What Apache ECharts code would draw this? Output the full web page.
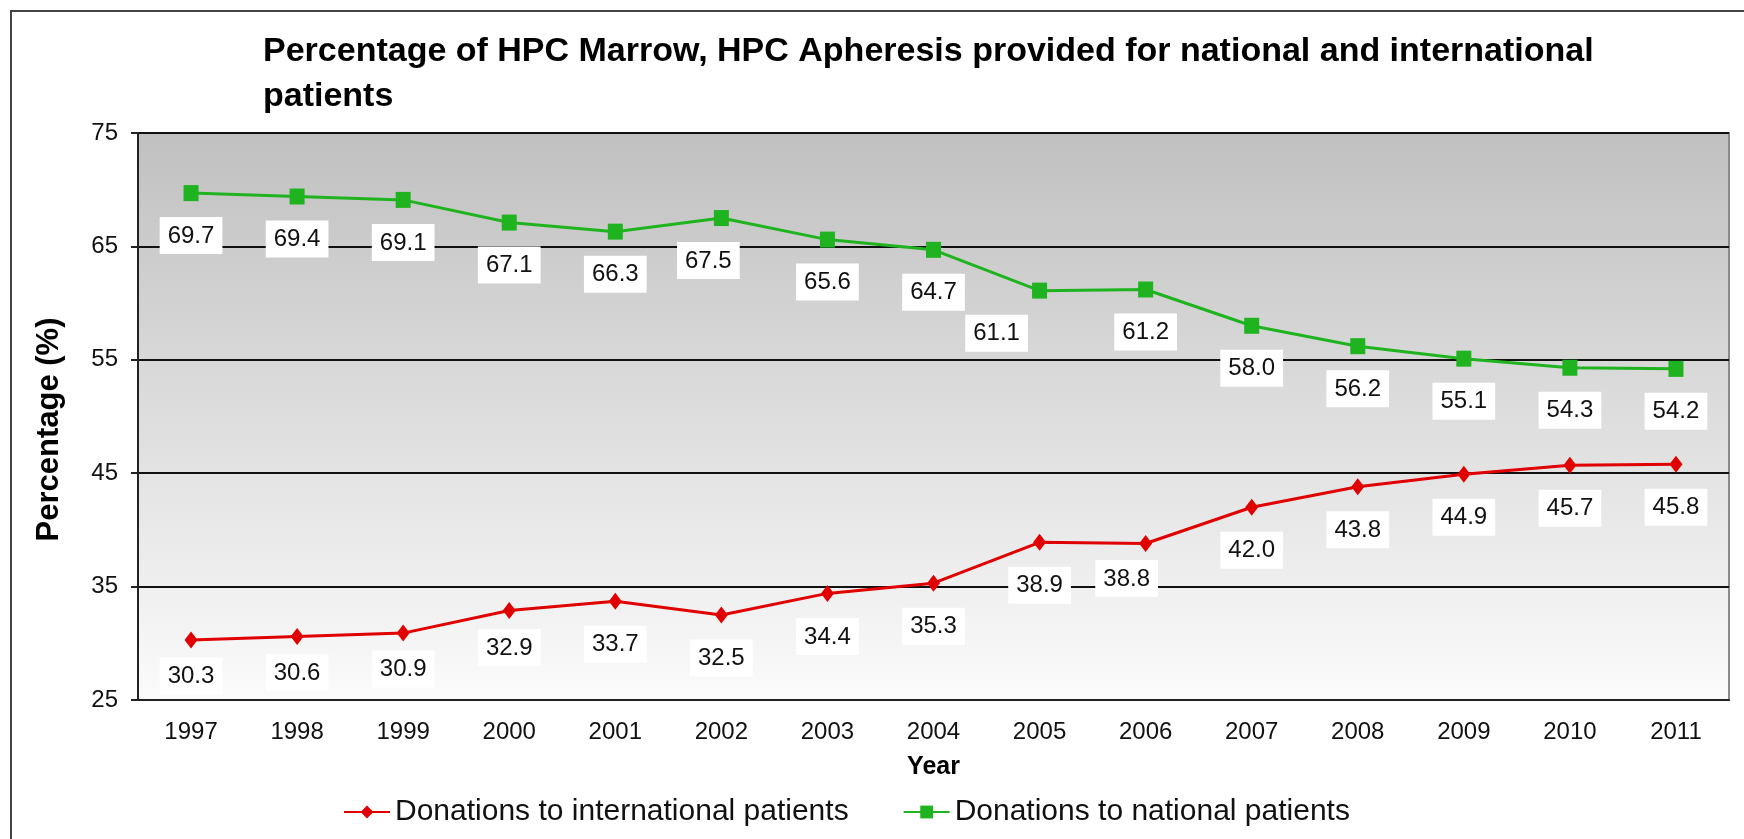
<!DOCTYPE html>
<html>
<head>
<meta charset="utf-8">
<script src="https://cdn.jsdelivr.net/npm/echarts@6/dist/echarts.min.js"></script>
<style>
  html, body { margin: 0; padding: 0; background: #fff; }
  #chart { width: 1744px; height: 839px; }
</style>
</head>
<body>
<div id="chart"></div>
<script>
const years = ['1997', '1998', '1999', '2000', '2001', '2002', '2003', '2004',
  '2005', '2006', '2007', '2008', '2009', '2010', '2011']
const international = [30.3, 30.6, 30.9, 32.9, 33.7, 32.5, 34.4, 35.3, 38.9, 38.8, 42.0, 43.8, 44.9, 45.7, 45.8]
const national = [69.7, 69.4, 69.1, 67.1, 66.3, 67.5, 65.6, 64.7, 61.1, 61.2, 58.0, 56.2, 55.1, 54.3, 54.2]

const font = 'Arial, "Liberation Sans", sans-serif'

// a few labels sit off-centre in the original
const shiftRed = {0: [0, -7], 1: [0, -7], 2: [0, -7], 3: [0, -6], 9: [-19, -8]}
const shiftGreen = {5: [-13, 0], 8: [-43, 0]}

function withLabels(values, shift) {
  return values.map((v, i) => {
    if (!shift[i]) return v
    return {value: v, label: {offset: shift[i]}}
  })
}

const labelStyle = {
  show: true,
  position: 'bottom',
  distance: 16,
  formatter: p => Number(p.value).toFixed(1),
  fontFamily: font,
  fontSize: 24,
  lineHeight: 26,
  color: '#111',
  backgroundColor: '#fff',
  padding: [6, 8, 5, 8]
}

const chart = echarts.init(document.getElementById('chart'))

chart.setOption({
  animation: false,
  backgroundColor: '#fff',
  title: {
    text: 'Percentage of HPC Marrow, HPC Apheresis provided for national and international\npatients',
    left: 258,
    top: 24,
    textStyle: {
      fontFamily: font,
      fontSize: 34,
      fontWeight: 'bold',
      lineHeight: 45,
      color: '#000'
    }
  },
  graphic: [{
    type: 'rect',
    z: -10,
    shape: {x: 11, y: 11, width: 1800, height: 900},
    style: {fill: 'none', stroke: '#444', lineWidth: 2}
  }],
  legend: {
    left: 338,
    top: 792,
    itemWidth: 46,
    itemHeight: 16,
    itemGap: 54,
    textStyle: {fontFamily: font, fontSize: 30, color: '#111'},
    data: ['Donations to international patients', 'Donations to national patients']
  },
  grid: {
    left: 138,
    right: 15,
    top: 133,
    bottom: 139,
    show: true,
    borderColor: '#8a8a8a',
    borderWidth: 2,
    backgroundColor: {
      type: 'linear', x: 0, y: 0, x2: 0, y2: 1,
      colorStops: [
        {offset: 0, color: '#c0c0c0'},
        {offset: 1, color: '#fbfbfb'}
      ]
    }
  },
  xAxis: {
    type: 'category',
    data: years,
    boundaryGap: true,
    name: 'Year',
    nameLocation: 'middle',
    nameGap: 55,
    nameTextStyle: {fontFamily: font, fontSize: 25, fontWeight: 'bold', color: '#000'},
    axisLine: {lineStyle: {color: '#222', width: 2}},
    axisTick: {length: 7, lineStyle: {color: '#222', width: 2}},
    axisLabel: {fontFamily: font, fontSize: 24, color: '#111', margin: 20}
  },
  yAxis: {
    type: 'value',
    min: 25,
    max: 75,
    interval: 10,
    name: 'Percentage (%)',
    nameLocation: 'middle',
    nameGap: 73,
    nameTextStyle: {
      fontFamily: font, fontSize: 31, fontWeight: 'bold', color: '#000',
      padding: [0, 26, 0, 0]
    },
    axisLine: {show: true, lineStyle: {color: '#222', width: 2}},
    axisTick: {show: true, length: 7, lineStyle: {color: '#222', width: 2}},
    axisLabel: {fontFamily: font, fontSize: 24, color: '#111', margin: 20},
    splitLine: {lineStyle: {color: '#111', width: 2}}
  },
  series: [
    {
      name: 'Donations to international patients',
      type: 'line',
      data: withLabels(international, shiftRed),
      symbol: 'diamond',
      symbolSize: [13, 17],
      lineStyle: {color: '#e00000', width: 3},
      itemStyle: {color: '#e00000'},
      label: labelStyle,
      z: 3
    },
    {
      name: 'Donations to national patients',
      type: 'line',
      data: withLabels(national, shiftGreen),
      symbol: 'rect',
      symbolSize: [15, 16],
      lineStyle: {color: '#1fb41f', width: 3},
      itemStyle: {color: '#1fb41f'},
      label: labelStyle,
      z: 3
    }
  ]
})
</script>
</body>
</html>
